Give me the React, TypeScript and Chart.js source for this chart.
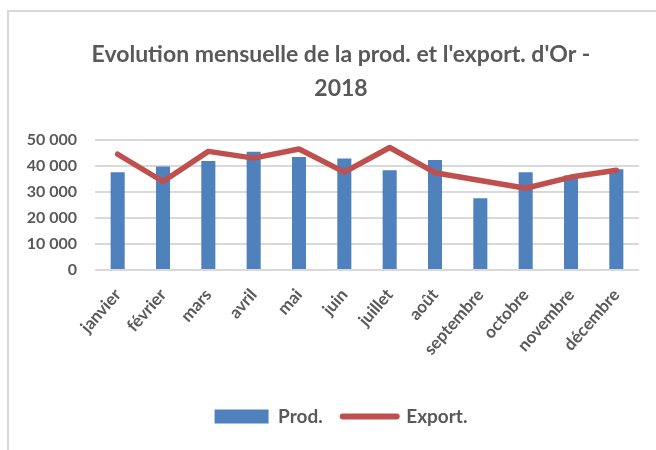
import React, { useEffect, useRef } from "react";
import { Chart, registerables } from "chart.js";

Chart.register(...registerables);

const months = ["janvier", "février", "mars", "avril", "mai", "juin", "juillet", "août", "septembre", "octobre", "novembre", "décembre"];
const prod = [37700, 39900, 42000, 45600, 43500, 43000, 38400, 42400, 27600, 37700, 36400, 38800];
const exportVals = [44600, 34100, 45700, 43100, 46600, 37700, 47200, 37500, 34500, 31500, 35800, 38400];
const titleLines = ["Evolution mensuelle de la prod. et l'export. d'Or -", "2018"];

const BLUE = "#4F81BD";
const RED = "#C0504D";
const TEXT = "#595959";
const GRID = "#D9D9D9";
const FONT = "Lato";

export default function App() {
  const ref = useRef<HTMLCanvasElement | null>(null);
  useEffect(() => {
    if (!ref.current) return;
    const chart = new Chart(ref.current, {
      data: {
        labels: months,
        datasets: [
          {
            type: "line",
            label: "Export.",
            data: exportVals,
            borderColor: RED,
            backgroundColor: RED,
            borderWidth: 5.5,
            pointRadius: 0,
            tension: 0,
            borderCapStyle: "round",
            borderJoinStyle: "round",
            order: 0,
          },
          {
            type: "bar",
            label: "Prod.",
            data: prod,
            backgroundColor: BLUE,
            barPercentage: 0.31,
            categoryPercentage: 1,
            order: 1,
          },
        ],
      } as any,
      options: {
        responsive: false,
        animation: false,
        layout: { padding: { left: 0, right: 0, top: 0, bottom: 14 } },
        plugins: {
          tooltip: { enabled: false },
          title: {
            display: true,
            text: titleLines,
            color: TEXT,
            font: { family: FONT, size: 23, weight: "bold", lineHeight: 1.44 },
            padding: { top: 38.5, bottom: 35.5 },
          },
          legend: {
            position: "bottom",
            labels: {
              color: TEXT,
              font: { family: FONT, size: 19, weight: "bold" },
              usePointStyle: true,
              pointStyleWidth: 54,
              boxHeight: 14,
              padding: 20,
              generateLabels: () => [
                { text: "Prod.", fillStyle: BLUE, strokeStyle: BLUE, lineWidth: 0, pointStyle: "rect", datasetIndex: 1, fontColor: TEXT } as any,
                { text: "Export.", fillStyle: RED, strokeStyle: RED, lineWidth: 6, lineCap: "round", pointStyle: "line", datasetIndex: 0, fontColor: TEXT } as any,
              ],
            },
          },
        },
        scales: {
          x: {
            grid: { display: false, drawTicks: false },
            border: { display: false },
            afterFit: (s: any) => { s.height = 117; },
            ticks: {
              color: TEXT,
              font: { family: FONT, size: 17, weight: "bold" },
              minRotation: 49,
              maxRotation: 49,
              padding: 15,
              autoSkip: false,
            },
          },
          y: {
            min: 0,
            max: 50000,
            grid: { color: GRID, lineWidth: 2, drawTicks: false },
            border: { display: false },
            afterFit: (s: any) => { s.width = 95; },
            ticks: {
              stepSize: 10000,
              color: TEXT,
              padding: 18,
              font: { family: FONT, size: 16, weight: "bold" },
              callback: (v: any) => String(v).replace(/\B(?=(\d{3})+(?!\d))/g, " "),
            },
          },
          yRight: {
            type: "linear",
            position: "right",
            display: true,
            grid: { display: false, drawTicks: false },
            border: { display: false },
            ticks: { display: false },
            afterFit: (s: any) => { s.width = 43; },
          },
        },
      } as any,
    });
    return () => chart.destroy();
  }, []);

  return (
    <div style={{ position: "absolute", left: 0, top: 0, width: 656, height: 450, overflow: "hidden", background: "#fff" }}>
      <div style={{ position: "absolute", left: 7, top: 10, width: 700, height: 500, borderLeft: `2px solid ${GRID}`, borderTop: `2px solid ${GRID}` }} />
      <canvas ref={ref} width={682} height={450} style={{ position: "absolute", left: 0, top: 0 }} />
    </div>
  );
}
